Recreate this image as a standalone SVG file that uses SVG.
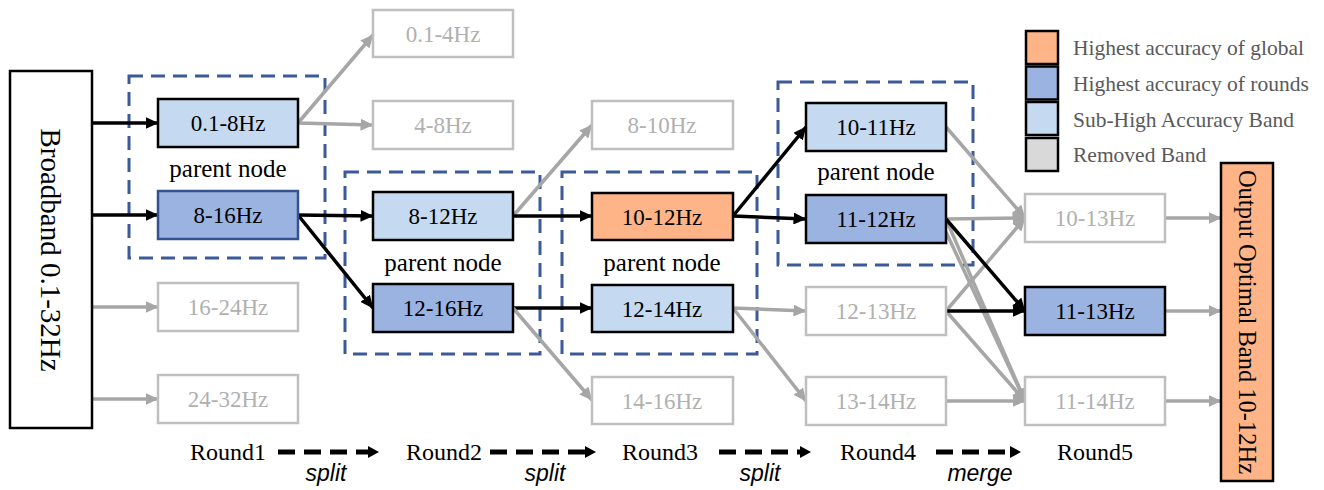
<svg xmlns="http://www.w3.org/2000/svg" width="1324" height="490" viewBox="0 0 1324 490">
<defs>
<marker id="ab" markerUnits="userSpaceOnUse" markerWidth="13" markerHeight="12" viewBox="0 0 13 12" refX="12.5" refY="6" orient="auto"><path d="M0,0 L13,6 L0,12 z" fill="#000"/></marker>
<marker id="ag" markerUnits="userSpaceOnUse" markerWidth="13" markerHeight="12" viewBox="0 0 13 12" refX="12.5" refY="6" orient="auto"><path d="M0,0 L13,6 L0,12 z" fill="#a6a6a6"/></marker>
<marker id="ar" markerUnits="userSpaceOnUse" markerWidth="11" markerHeight="12" viewBox="0 0 11 12" refX="1" refY="6" orient="auto"><path d="M0,0 L11,6 L0,12 z" fill="#000"/></marker>
</defs>
<style>
.n{stroke:#000;stroke-width:2.5}
.lb{fill:#c5daf0}
.mb{fill:#9bb3e0}
.or{fill:#ffb488}
.gn{fill:#fff;stroke:#bfbfbf;stroke-width:2.5}
.t{font-family:"Liberation Serif","Times New Roman",serif;font-size:23px;text-anchor:middle;fill:#000}
.tg{fill:#b0b0b0}
.pn{font-family:"Liberation Serif","Times New Roman",serif;font-size:25px;text-anchor:middle;fill:#000}
.dbox{fill:none;stroke:#3c5a99;stroke-width:3;stroke-dasharray:14 8}
.cb{stroke:#000;stroke-width:3.5;fill:none;marker-end:url(#ab)}
.cg{stroke:#a6a6a6;stroke-width:3.5;fill:none;marker-end:url(#ag)}
.lg{font-family:"Liberation Serif","Times New Roman",serif;font-size:21.5px;fill:#595959}
.rd{font-family:"Liberation Serif","Times New Roman",serif;font-size:24px;fill:#000;text-anchor:middle}
.sp{font-family:"Liberation Sans",Arial,sans-serif;font-style:italic;font-size:23px;fill:#000;text-anchor:middle}
.ra{stroke:#000;stroke-width:5;stroke-dasharray:17 9;fill:none;marker-end:url(#ar)}
</style>

<g id="groups">
<rect class="dbox" x="129" y="76" width="196" height="182"/>
<text class="pn" x="228" y="177">parent node</text>
<rect class="dbox" x="345" y="172" width="195" height="182"/>
<text class="pn" x="443" y="271">parent node</text>
<rect class="dbox" x="562" y="172" width="195" height="182"/>
<text class="pn" x="662" y="271">parent node</text>
<rect class="dbox" x="778" y="82" width="195" height="183"/>
<text class="pn" x="876" y="180">parent node</text>
</g>

<g id="connectors">
<path class="cb" d="M92,123 L158,123"/>
<path class="cb" d="M92,215 L158,215"/>
<path class="cg" d="M92,307 L158,307"/>
<path class="cg" d="M92,399 L158,399"/>
<path class="cg" d="M298,123 L373,35"/>
<path class="cg" d="M298,123 L373,125"/>
<path class="cb" d="M298,215 L373,216"/>
<path class="cb" d="M298,215 L373,308"/>
<path class="cg" d="M513,216 L592,125"/>
<path class="cb" d="M513,216 L592,216"/>
<path class="cb" d="M513,308 L592,308"/>
<path class="cg" d="M513,308 L592,400"/>
<path class="cb" d="M733,216 L806,127"/>
<path class="cb" d="M733,216 L806,219"/>
<path class="cg" d="M733,308 L806,311"/>
<path class="cg" d="M733,308 L806,401"/>
<path class="cg" d="M946,127 L1025,218"/>
<path class="cg" d="M946,219 L1025,218"/>
<path class="cg" d="M946,219 L1025,401"/>
<path class="cg" d="M946,232 L1025,401"/>
<path class="cg" d="M946,311 L1025,218"/>
<path class="cg" d="M946,311 L1025,401"/>
<path class="cg" d="M946,401 L1025,401"/>
<path class="cb" d="M946,219 L1025,311"/>
<path class="cb" d="M946,311 L1025,311"/>
<path class="cg" d="M1165,218 L1221,218"/>
<path class="cg" d="M1165,311 L1221,311"/>
<path class="cg" d="M1165,401 L1221,401"/>
</g>

<g id="broadband">
<rect x="10" y="71" width="82" height="357" fill="#fff" stroke="#000" stroke-width="2.5"/>
<text transform="translate(51,250) rotate(90)" x="0" y="10" style="font-family:'Liberation Serif','Times New Roman',serif;font-size:29px;text-anchor:middle">Broadband 0.1-32Hz</text>
</g>

<g id="n-0.1-8"><rect class="n lb" x="158" y="99" width="140" height="48"/><text class="t" x="228" y="131">0.1-8Hz</text></g>
<g id="n-8-16"><rect class="mb" x="158" y="191" width="140" height="48" stroke="#34528f" stroke-width="2.5"/><text class="t" x="228" y="223">8-16Hz</text></g>
<g id="n-16-24"><rect class="gn" x="158" y="283" width="140" height="48"/><text class="t tg" x="228" y="315">16-24Hz</text></g>
<g id="n-24-32"><rect class="gn" x="158" y="375" width="140" height="48"/><text class="t tg" x="228" y="407">24-32Hz</text></g>

<g id="n-0.1-4"><rect class="gn" x="373" y="10" width="140" height="47"/><text class="t tg" x="443" y="42">0.1-4Hz</text></g>
<g id="n-4-8"><rect class="gn" x="373" y="101" width="140" height="48"/><text class="t tg" x="443" y="133">4-8Hz</text></g>
<g id="n-8-12"><rect class="n lb" x="373" y="192" width="140" height="48"/><text class="t" x="443" y="224">8-12Hz</text></g>
<g id="n-12-16"><rect class="n mb" x="373" y="284" width="140" height="48"/><text class="t" x="443" y="316">12-16Hz</text></g>

<g id="n-8-10"><rect class="gn" x="592" y="101" width="141" height="48"/><text class="t tg" x="662" y="133">8-10Hz</text></g>
<g id="n-10-12"><rect class="n or" x="592" y="193" width="141" height="47"/><text class="t" x="662" y="225">10-12Hz</text></g>
<g id="n-12-14"><rect class="n lb" x="592" y="285" width="141" height="47"/><text class="t" x="662" y="317">12-14Hz</text></g>
<g id="n-14-16"><rect class="gn" x="592" y="377" width="141" height="47"/><text class="t tg" x="662" y="409">14-16Hz</text></g>

<g id="n-10-11"><rect class="n lb" x="806" y="103" width="140" height="48"/><text class="t" x="876" y="135">10-11Hz</text></g>
<g id="n-11-12"><rect class="n mb" x="806" y="195" width="140" height="48"/><text class="t" x="876" y="227">11-12Hz</text></g>
<g id="n-12-13"><rect class="gn" x="806" y="287" width="140" height="48"/><text class="t tg" x="876" y="319">12-13Hz</text></g>
<g id="n-13-14"><rect class="gn" x="806" y="377" width="140" height="48"/><text class="t tg" x="876" y="409">13-14Hz</text></g>

<g id="n-10-13"><rect class="gn" x="1025" y="194" width="140" height="48"/><text class="t tg" x="1095" y="226">10-13Hz</text></g>
<g id="n-11-13"><rect class="n mb" x="1025" y="287" width="140" height="48"/><text class="t" x="1095" y="319">11-13Hz</text></g>
<g id="n-11-14"><rect class="gn" x="1025" y="377" width="140" height="48"/><text class="t tg" x="1095" y="409">11-14Hz</text></g>

<g id="output">
<rect class="n or" x="1221" y="163" width="52" height="318"/>
<text transform="translate(1247,322) rotate(90)" x="0" y="8.5" style="font-family:'Liberation Serif','Times New Roman',serif;font-size:24.5px;text-anchor:middle">Output Optimal Band 10-12Hz</text>
</g>

<g id="legend">
<rect class="n or" x="1026" y="31" width="32" height="33"/>
<rect class="n mb" x="1026" y="66.5" width="32" height="33"/>
<rect class="n lb" x="1026" y="102" width="32" height="33"/>
<rect class="n" fill="#d9d9d9" x="1026" y="138" width="32" height="33"/>
<text class="lg" x="1073" y="55">Highest accuracy of global</text>
<text class="lg" x="1073" y="91">Highest accuracy of rounds</text>
<text class="lg" x="1073" y="127">Sub-High Accuracy Band</text>
<text class="lg" x="1073" y="162">Removed Band</text>
</g>

<g id="rounds">
<text class="rd" x="228" y="460">Round1</text>
<text class="rd" x="444" y="460">Round2</text>
<text class="rd" x="660" y="460">Round3</text>
<text class="rd" x="878" y="460">Round4</text>
<text class="rd" x="1095" y="460">Round5</text>
<path class="ra" d="M278,452 L369,452"/>
<path class="ra" d="M490,452 L586,452"/>
<path class="ra" d="M719,452 L801,452"/>
<path class="ra" d="M936,452 L1011,452"/>
<text class="sp" x="326" y="481">split</text>
<text class="sp" x="545" y="481">split</text>
<text class="sp" x="760" y="481">split</text>
<text class="sp" x="980" y="481">merge</text>
</g>
</svg>
